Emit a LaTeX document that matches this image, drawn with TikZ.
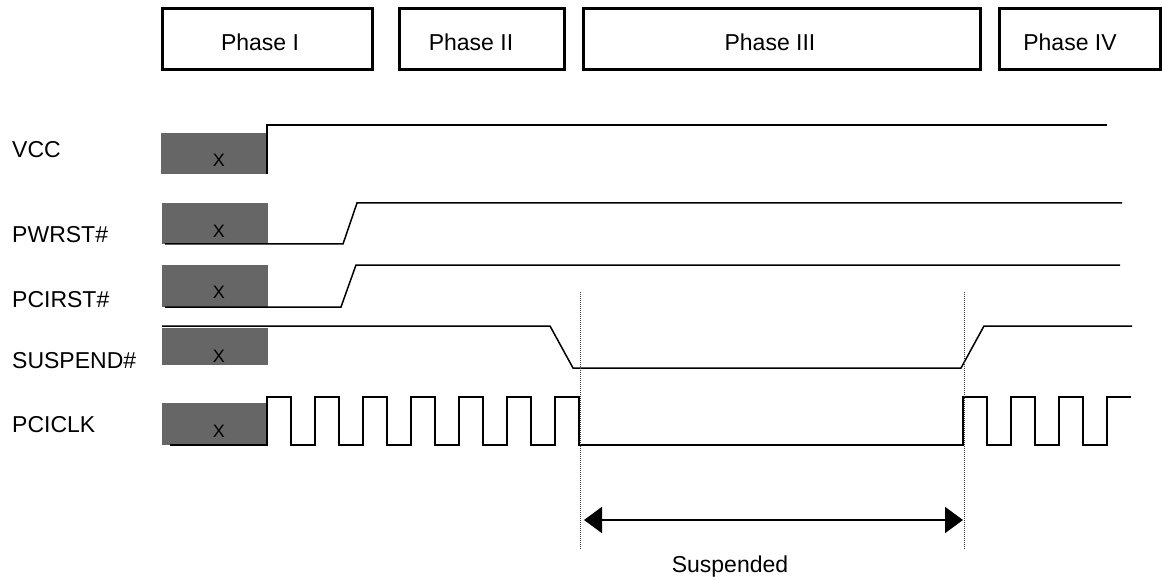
\documentclass[tikz,border=0pt]{standalone}
\usepackage{fontspec}
\setmainfont{Liberation Sans}
\usetikzlibrary{arrows.meta}
\definecolor{xgray}{RGB}{102,102,102}
\tikzset{
  phasebox/.style={draw, line width=3pt, minimum height=61pt, inner sep=0pt},
  phasetext/.style={font=\fontsize{23}{27}\selectfont, inner sep=0pt},
  siglabel/.style={anchor=base west, font=\fontsize{23}{27}\selectfont, inner sep=0pt},
  xmark/.style={anchor=base, font=\fontsize{18}{21}\selectfont, inner sep=0pt},
  wave/.style={line width=1.5pt, line join=miter},
  marker/.style={line width=1pt, dash pattern=on 1pt off 1pt, black!80},
}

\begin{document}
\begin{tikzpicture}[x=1pt, y=-1pt]
\useasboundingbox (0,0) rectangle (1162,580);

% phases
\node[phasebox, minimum width=210pt] (ph1) at (267.5,39.5) {};
\node[phasebox, minimum width=164.5pt] (ph2) at (482,39.5) {};
\node[phasebox, minimum width=396.5pt] (ph3) at (782,39.5) {};
\node[phasebox, minimum width=161pt] (ph4) at (1080,39.5) {};
\node[phasetext] (ph1t) at (260,42.5) {Phase I};
\node[phasetext] (ph2t) at (471,42.5) {Phase II};
\node[phasetext] (ph3t) at (770,42.5) {Phase III};
\node[phasetext] (ph4t) at (1070,42.5) {Phase IV};

% signal names
\node[siglabel] (vcc) at (12,158) {VCC};
\node[siglabel] (pwrst) at (12,243) {PWRST\#};
\node[siglabel] (pcirst) at (12,307) {PCIRST\#};
\node[siglabel] (susp) at (12,368) {SUSPEND\#};
\node[siglabel] (pciclk) at (12,432) {PCICLK};

% unknown states
\fill[xgray] (161,133) rectangle (267,174); % VCC
\fill[xgray] (162,203) rectangle (268,244); % PWRST#
\fill[xgray] (162,265) rectangle (268,307); % PCIRST#
\fill[xgray] (162,328) rectangle (268,365); % SUSPEND#
\fill[xgray] (162,403) rectangle (268,445); % PCICLK
\node[xmark] (xvcc) at (219,167) {X};
\node[xmark] (xpwrst) at (219,238) {X};
\node[xmark] (xpcirst) at (219,298) {X};
\node[xmark] (xsusp) at (219,362) {X};
\node[xmark] (xpciclk) at (219,437) {X};

% waveforms
\draw[wave] (267,174) -- (267,125) -- (1107,125); % VCC
\draw[wave] (165,244) -- (343,244) -- (357,203) -- (1122,203); % PWRST#
\draw[wave] (165,307) -- (341,307) -- (356,265) -- (1120,265); % PCIRST#
\draw[wave] (162,326) -- (550,326) -- (573,368) -- (961,368) -- (984,326) -- (1132,326); % SUSPEND#
\draw[wave] (170,445)
  foreach \x in {267,315,...,555} { -- (\x,445) -- (\x,397) -- (\x+24,397) -- (\x+24,445) }
  -- (963,445)
  foreach \x in {963,1011,1059} { -- (\x,445) -- (\x,397) -- (\x+24,397) -- (\x+24,445) }
  -- (1107,445) -- (1107,397) -- (1131,397); % PCICLK

% suspended window
\coordinate (s1top) at (580,292);
\coordinate (s1bot) at (580,550);
\coordinate (s2top) at (964,292);
\coordinate (s2bot) at (964,550);
\draw[marker] (s1top) -- (s1bot);
\draw[marker] (s2top) -- (s2bot);
\coordinate (a1) at (584,520);
\coordinate (a2) at (963,520);
\draw[line width=2pt, {Triangle[length=18pt,width=26pt]}-{Triangle[length=18pt,width=26pt]}] (a1) -- (a2);
\node[phasetext, anchor=base] (susptext) at (730,572) {Suspended};

\end{tikzpicture}
\end{document}
